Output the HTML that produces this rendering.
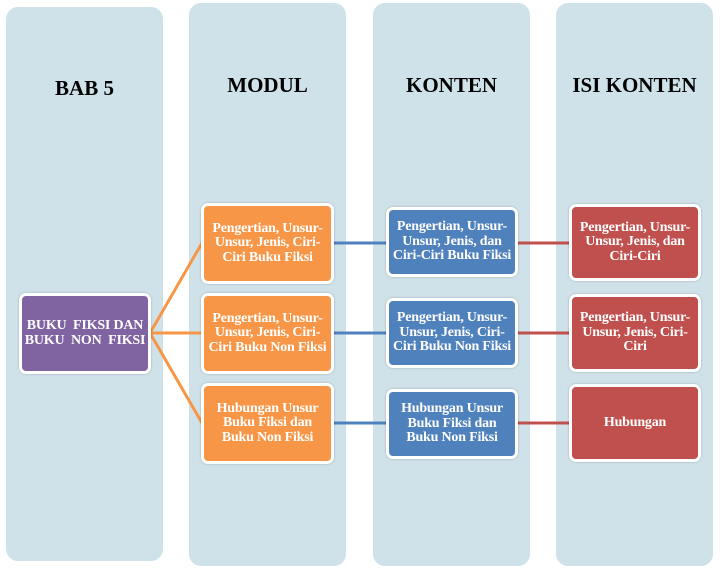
<!DOCTYPE html>
<html><head><meta charset="utf-8"><style>
body{margin:0;width:723px;height:571px;background:#fff;position:relative;overflow:hidden;font-family:"Liberation Serif",serif;}
.col{position:absolute;background:#d0e2e9;border-radius:12px;}
.h{position:absolute;font-weight:bold;font-size:21px;color:#000;text-align:center;width:157px;}
.b{position:absolute;border:3px solid #fff;border-radius:7px;box-sizing:border-box;color:#fff;font-weight:bold;font-size:14px;line-height:14.5px;letter-spacing:-0.2px;display:flex;align-items:center;justify-content:center;text-align:center;box-shadow:0 0 2px rgba(0,0,0,.25);white-space:nowrap;}
.o{background:#f79646}.bl{background:#4f81bd}.r{background:#c0504d}.p{background:#8064a2}
</style></head><body>
<div class="col" style="left:6px;top:7px;width:157px;height:554px"></div>
<div class="col" style="left:189px;top:3px;width:157px;height:563px"></div>
<div class="col" style="left:373px;top:3px;width:157px;height:563px"></div>
<div class="col" style="left:556px;top:3px;width:157px;height:563px"></div>
<div class="h" style="left:6px;top:76px">BAB 5</div>
<div class="h" style="left:189px;top:73px">MODUL</div>
<div class="h" style="left:373px;top:73px">KONTEN</div>
<div class="h" style="left:556px;top:73px">ISI KONTEN</div>
<svg style="position:absolute;left:0;top:0" width="723" height="571">
<g stroke="#f79646" stroke-width="3" fill="none">
<line x1="150" y1="333" x2="202" y2="243"/><line x1="150" y1="333" x2="202" y2="333"/><line x1="150" y1="333" x2="202" y2="423"/></g>
<g stroke="#4f81bd" stroke-width="3">
<line x1="333" y1="243" x2="387" y2="243"/><line x1="333" y1="333" x2="387" y2="333"/><line x1="333" y1="423" x2="387" y2="423"/></g>
<g stroke="#c0504d" stroke-width="3">
<line x1="517" y1="243" x2="570" y2="243"/><line x1="517" y1="333" x2="570" y2="333"/><line x1="517" y1="423" x2="570" y2="423"/></g>
</svg>
<div class="b p" style="left:19px;top:293px;width:132px;height:81px">BUKU&nbsp; FIKSI DAN<br>BUKU&nbsp; NON&nbsp; FIKSI</div>
<div class="b o" style="left:201px;top:203px;width:133px;height:81px">Pengertian, Unsur-<br>Unsur, Jenis, Ciri-<br>Ciri Buku Fiksi</div>
<div class="b o" style="left:201px;top:293px;width:133px;height:81px">Pengertian, Unsur-<br>Unsur, Jenis, Ciri-<br>Ciri Buku Non Fiksi</div>
<div class="b o" style="left:201px;top:383px;width:133px;height:81px">Hubungan Unsur<br>Buku Fiksi dan<br>Buku Non Fiksi</div>
<div class="b bl" style="left:386px;top:207px;width:132px;height:70px">Pengertian, Unsur-<br>Unsur, Jenis, dan<br>Ciri-Ciri Buku Fiksi</div>
<div class="b bl" style="left:386px;top:298px;width:132px;height:70px">Pengertian, Unsur-<br>Unsur, Jenis, Ciri-<br>Ciri Buku Non Fiksi</div>
<div class="b bl" style="left:386px;top:389px;width:132px;height:70px">Hubungan Unsur<br>Buku Fiksi dan<br>Buku Non Fiksi</div>
<div class="b r" style="left:569px;top:204px;width:132px;height:77px">Pengertian, Unsur-<br>Unsur, Jenis, dan<br>Ciri-Ciri</div>
<div class="b r" style="left:569px;top:294px;width:132px;height:78px">Pengertian, Unsur-<br>Unsur, Jenis, Ciri-<br>Ciri</div>
<div class="b r" style="left:569px;top:384px;width:132px;height:78px">Hubungan</div>
</body></html>
